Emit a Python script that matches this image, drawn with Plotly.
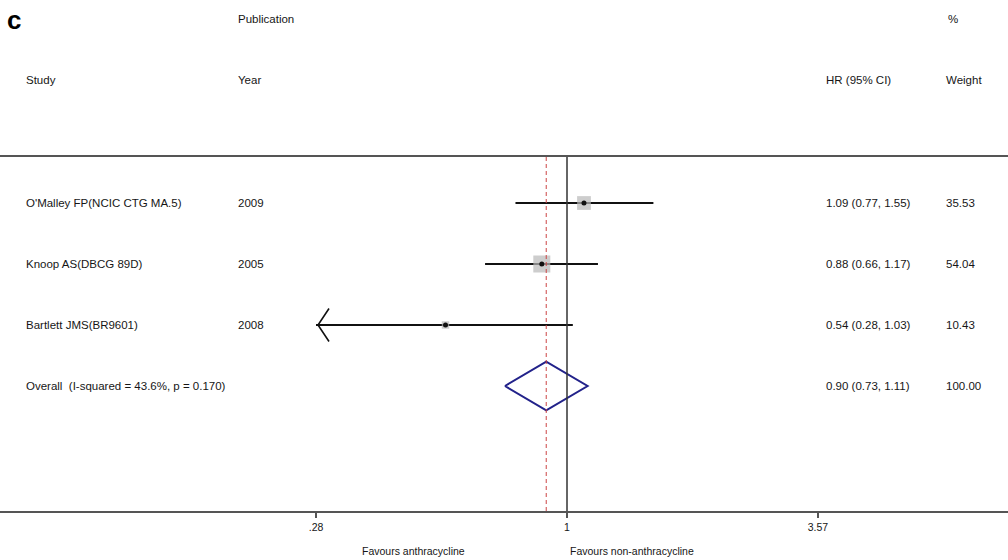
import math
import plotly.graph_objects as go

# ---- data ----
studies = ["O'Malley FP(NCIC CTG MA.5)", "Knoop AS(DBCG 89D)", "Bartlett JMS(BR9601)"]
years = ["2009", "2005", "2008"]
hr = [1.09, 0.88, 0.54]
lo = [0.77, 0.66, 0.28]
hi = [1.55, 1.17, 1.03]
weights = [35.53, 54.04, 10.43]
overall_label = "Overall\u00a0\u00a0(I-squared = 43.6%, p = 0.170)"
overall = [0.90, 0.73, 1.11]
overall_weight = "100.00"
tick_vals = [0.28, 1, 3.57]
tick_text = [".28", "1", "3.57"]

W, H = 1008, 560
ML, MR, MT, MB = 0, 0, 157, 49
PH = H - MT - MB
DEC = 454.0  # pixels per decade
x_px_one = 567
xr = [math.log10(1) - (x_px_one - ML) / DEC, (W - MR - x_px_one) / DEC]
row0, rowstep = 46, 61
yr = [(PH - row0) / rowstep, -row0 / rowstep]

FONT = "Liberation Sans, Arial, sans-serif"
TXT = "#161616"
FS = 11.5

fig = go.Figure()

# CI lines
cx, cy = [], []
for i in range(len(studies)):
    cx += [max(lo[i], tick_vals[0]), hi[i], None]
    cy += [i, i, None]
fig.add_trace(go.Scatter(x=cx, y=cy, mode="lines", line=dict(color="#111111", width=2),
                         hoverinfo="skip", showlegend=False))

# arrows for truncated CIs
ax_, ay_ = [], []
for i in range(len(studies)):
    if lo[i] <= tick_vals[0]:
        tip = tick_vals[0] * 10 ** (2 / DEC)
        arm = tip * 10 ** (11 / DEC)
        ax_ += [arm, tip, arm, None]
        ay_ += [i - 0.27, i, i + 0.27, None]
fig.add_trace(go.Scatter(x=ax_, y=ay_, mode="lines", line=dict(color="#111111", width=1.6),
                         hoverinfo="skip", showlegend=False))

# weight boxes
k = 17 / math.sqrt(max(weights))
fig.add_trace(go.Scatter(x=hr, y=list(range(len(studies))), mode="markers",
                         marker=dict(symbol="square", size=[k * math.sqrt(w) for w in weights],
                                     color="#b8b8b8", line=dict(width=0)),
                         hoverinfo="skip", showlegend=False))
# point estimates
fig.add_trace(go.Scatter(x=hr, y=list(range(len(studies))), mode="markers",
                         marker=dict(symbol="circle", size=5, color="#111111"),
                         hoverinfo="skip", showlegend=False))

# overall diamond
oi = len(studies)
fig.add_trace(go.Scatter(x=[overall[1], overall[0], overall[2], overall[0], overall[1]],
                         y=[oi, oi - 0.4, oi, oi + 0.4, oi], mode="lines",
                         line=dict(color="#22228a", width=2),
                         hoverinfo="skip", showlegend=False))

# reference lines
fig.add_shape(type="line", xref="x", yref="paper", x0=1, x1=1, y0=0, y1=1,
              line=dict(color="#333333", width=1.5))
fig.add_shape(type="line", xref="x", yref="paper", x0=overall[0], x1=overall[0], y0=0, y1=1,
              line=dict(color="#cc4444", width=1, dash="4px,3px"))

def px2paper_y(py):
    return (H - MB - py) / PH

def ann(text, xpx, y, yref="y", size=FS, bold=False, anchor="left"):
    fig.add_annotation(text=("<b>%s</b>" % text) if bold else text, x=xpx / W, xref="paper",
                       y=y, yref=yref, xanchor=anchor, yanchor="middle", showarrow=False,
                       borderpad=0,
                       font=dict(family=FONT, size=size, color=TXT if not bold else "#000"))

# headers
ann("c", 6, px2paper_y(20), "paper", size=26, bold=True)
ann("Publication", 237, px2paper_y(19), "paper")
ann("%", 947, px2paper_y(19), "paper")
ann("Study", 25, px2paper_y(80), "paper")
ann("Year", 237, px2paper_y(80), "paper")
ann("HR (95% CI)", 825, px2paper_y(80), "paper")
ann("Weight", 945, px2paper_y(80), "paper")

# rows
for i in range(len(studies)):
    ann(studies[i], 25, i)
    ann(years[i], 237, i)
    ann("%.2f (%.2f, %.2f)" % (hr[i], lo[i], hi[i]), 825, i)
    ann("%.2f" % weights[i], 945, i)
ann(overall_label, 25, oi)
ann("%.2f (%.2f, %.2f)" % tuple(overall), 825, oi)
ann(overall_weight, 945, oi)

# favours labels
ann("Favours anthracycline", 413, px2paper_y(551), "paper", size=10.5, anchor="center")
ann("Favours non-anthracycline", 632, px2paper_y(551), "paper", size=10.5, anchor="center")

fig.update_layout(
    width=W, height=H, margin=dict(l=ML, r=MR, t=MT, b=MB, pad=0),
    paper_bgcolor="white", plot_bgcolor="white",
    xaxis=dict(type="log", range=xr, tickvals=tick_vals, ticktext=tick_text,
               ticks="outside", ticklen=5, tickwidth=1.5, tickcolor="#555555",
               showline=True, linecolor="#555555", linewidth=2, mirror=True,
               showgrid=False, zeroline=False,
               tickfont=dict(family=FONT, size=10.5, color=TXT)),
    yaxis=dict(range=yr, visible=False, showgrid=False, zeroline=False),
    showlegend=False,
)

fig.write_html("out.html")
